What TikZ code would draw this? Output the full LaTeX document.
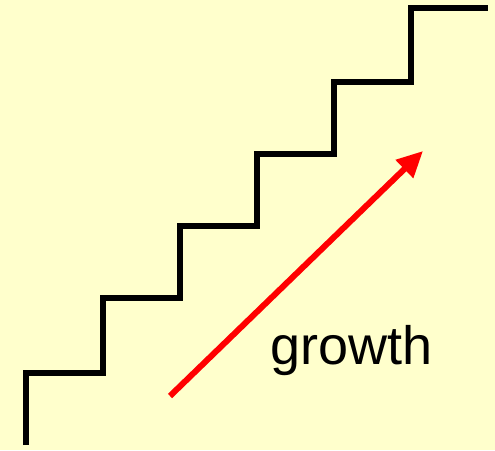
\documentclass[tikz,border=0pt]{standalone}
\usepackage{fontspec}
\setmainfont{Liberation Sans}
\usetikzlibrary{arrows.meta}
\definecolor{bgY}{HTML}{FFFFCC}
\definecolor{txt}{HTML}{000000}
\definecolor{upR}{HTML}{FF0000}

\begin{document}
\begin{tikzpicture}[
  x=1pt,y=-1pt,
  >={Triangle[length=26pt,width=24pt]},
  stair/.style={line width=5.5pt,txt,line join=miter},
  growarrow/.style={->,line width=6pt,upR},
  lbl/.style={font=\fontsize{54}{60}\selectfont,text=txt,inner sep=0pt},
  ]

% ================= canvas =================
\fill[bgY] (0,0) rectangle (495,450);
\useasboundingbox (0,0) rectangle (495,450);

% ================= staircase =================
\coordinate (foot) at (26,445);
\draw[stair] (foot)
  \foreach \x/\y/\xn in {26/373/103,103/298/180,180/226/257,257/154/334,334/82/411,411/8/488}{
    -- (\x,\y) -- (\xn,\y)
  };

% ================= growth arrow =================
\coordinate (tail) at (170,396);
\coordinate (head) at (423,151);
\draw[growarrow] (tail) -- (head);
\node[lbl,anchor=base] (growth) at (351.5,364) {growth};

\end{tikzpicture}
\end{document}
